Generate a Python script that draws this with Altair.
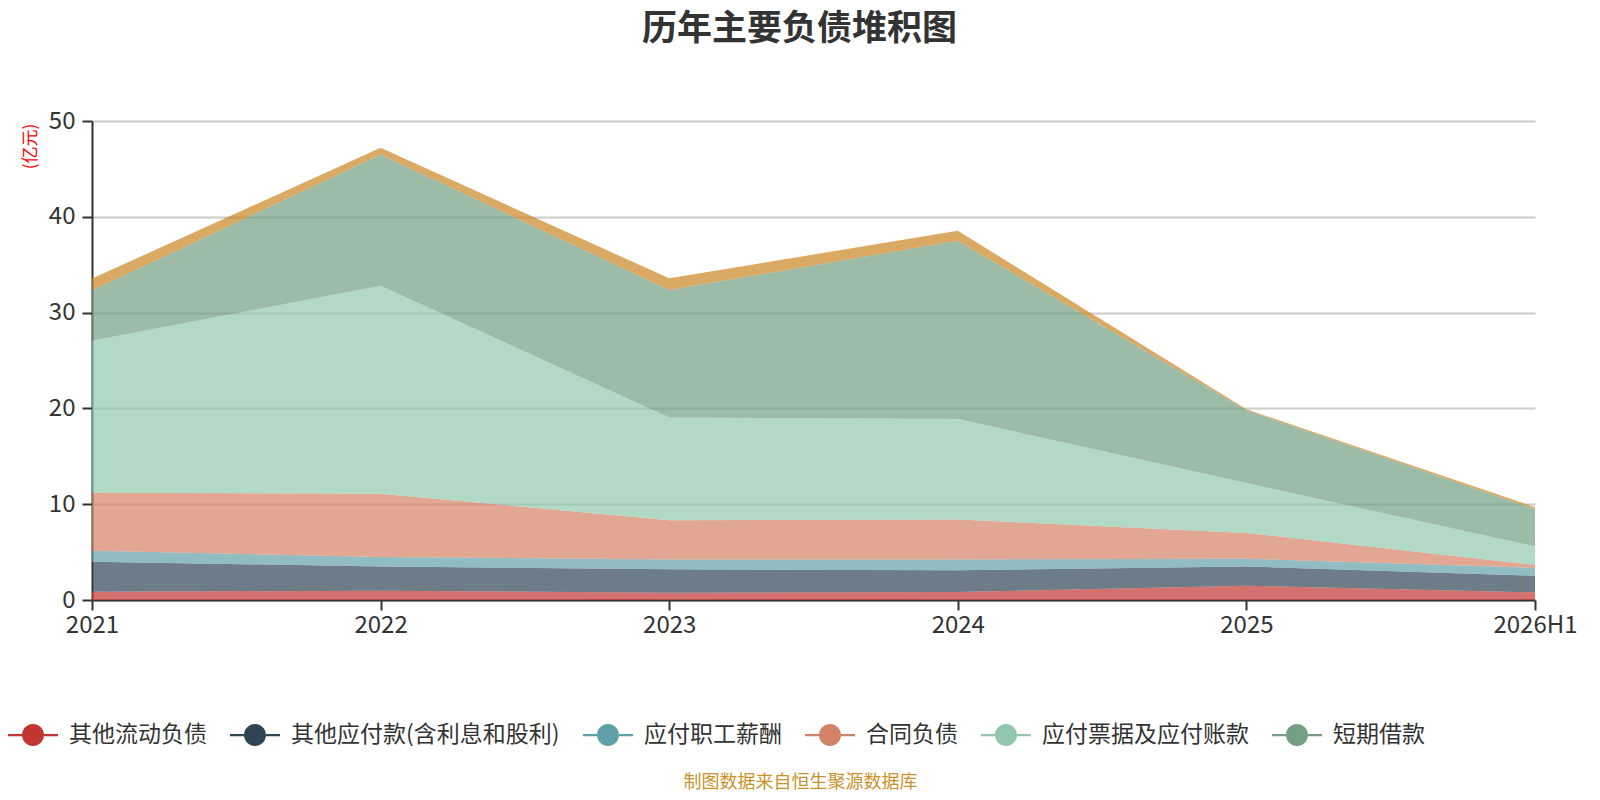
import altair as alt
import pandas as pd

years = ["2021", "2022", "2023", "2024", "2025", "2026H1"]
series_names = [
    "其他流动负债",
    "其他应付款(含利息和股利)",
    "应付职工薪酬",
    "合同负债",
    "应付票据及应付账款",
    "短期借款",
    "一年内到期的非流动负债",
]
other_current = [0.87, 0.97, 0.76, 0.83, 1.50, 0.80]
other_payables = [3.13, 2.53, 2.44, 2.27, 2.00, 1.74]
payroll = [1.15, 1.00, 1.04, 1.14, 0.80, 0.81]
contract = [6.05, 6.60, 4.09, 4.16, 2.70, 0.31]
notes_accounts = [15.85, 21.70, 10.73, 10.50, 5.20, 1.94]
short_loans = [5.25, 13.70, 13.30, 18.60, 7.60, 3.90]
due_within_year = [1.25, 0.70, 1.22, 1.04, 0.10, 0.19]
colors = ["#c23531", "#2f4554", "#61a0a8", "#d48265", "#91c7ae", "#749f83", "#ca8622"]

series_values = [other_current, other_payables, payroll, contract,
                 notes_accounts, short_loans, due_within_year]
rows = []
for i, (name, vals) in enumerate(zip(series_names, series_values)):
    for y, v in zip(years, vals):
        rows.append({"series": name, "year": y, "value": v, "order": i})
df = pd.DataFrame(rows)

FONT = "Noto Sans CJK SC"
legend_symbol = ("M-1,-0.045H-0.44V0.045H-1Z "
                 "M0.44,-0.045H1V0.045H0.44Z "
                 "M-0.44,0A0.44,0.44,0,1,0,0.44,0A0.44,0.44,0,1,0,-0.44,0Z")

chart = alt.Chart(df).mark_area(fillOpacity=0.7, strokeWidth=0, interpolate="linear").encode(
    x=alt.X("year:N", sort=years,
            scale=alt.Scale(type="point", padding=0),
            axis=alt.Axis(title="制图数据来自恒生聚源数据库", titleFontSize=18,
                          titleColor="#c8922c", titleFontWeight="normal", titleFont=FONT,
                          titleX=708, titleY=182, titleAlign="center", titleBaseline="middle",
                          labelFontSize=24, labelColor="#333", labelFont=FONT, labelAngle=0,
                          labelPadding=3, tickSize=10, tickWidth=2, tickColor="#333",
                          domainColor="#333", domainWidth=2, grid=False)),
    y=alt.Y("value:Q", stack="zero",
            scale=alt.Scale(domain=[0, 50], nice=False),
            axis=alt.Axis(values=[0, 10, 20, 30, 40, 50], title="(亿元)", titleColor="red",
                          titleFontSize=17, titleFontWeight="normal", titleFont=FONT,
                          titleX=-62, titleY=25, titleAlign="center", titleBaseline="middle",
                          titleAngle=270,
                          labelFontSize=24, labelColor="#333", labelFont=FONT, labelPadding=7,
                          tickSize=10, tickWidth=2, tickColor="#333",
                          domainColor="#333", domainWidth=2,
                          gridColor="#cccccc", gridWidth=2)),
    color=alt.Color("series:N",
                    scale=alt.Scale(domain=series_names, range=colors),
                    legend=alt.Legend(title=None, orient="none", legendX=-84, legendY=589,
                                      direction="horizontal", values=series_names[:6],
                                      symbolType=legend_symbol, symbolSize=2500,
                                      symbolOpacity=1, symbolStrokeWidth=0,
                                      labelFontSize=23, labelColor="#333", labelFont=FONT,
                                      labelLimit=600,
                                      labelOffset=11, columnPadding=23, padding=0)),
    order=alt.Order("order:Q", sort="ascending"),
).properties(
    width=1443,
    height=479,
    padding={"left": 84, "top": 113, "right": 56, "bottom": 192},
    autosize=alt.AutoSizeParams(type="none"),
    title=alt.TitleParams(text="历年主要负债堆积图", fontSize=35, fontWeight="bold",
                          color="#333", font=FONT, anchor="middle", frame="group",
                          offset=62, dx=-14),
).configure_view(stroke=None)

chart.save("out.html", embed_options={"renderer": "svg", "actions": False})
